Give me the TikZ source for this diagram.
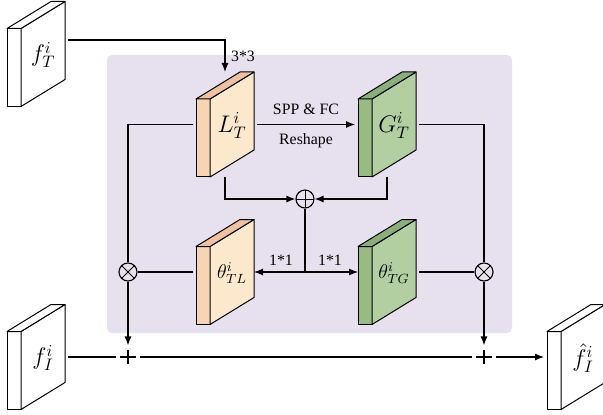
\documentclass[tikz,border=0pt]{standalone}
\usepackage{fontspec}
\setmainfont{Liberation Serif}
\usetikzlibrary{arrows.meta,calc}

\definecolor{panelbg}{HTML}{E7E0EF}
\definecolor{peachfront}{HTML}{FBE8CD}
\definecolor{peachside}{HTML}{F7D5B4}
\definecolor{peachtop}{HTML}{F0C0A2}
\definecolor{greenfront}{HTML}{B2CFA2}
\definecolor{greenside}{HTML}{98BB84}
\definecolor{greentop}{HTML}{8BAF7B}

% slab: name, centre, front, side, top, label
\newcommand{\slab}[6]{%
  \begin{scope}[shift={#2}]
    \filldraw[slabline,fill=#4] (-29,-25.5) rectangle (-15,52.5);
    \filldraw[slabline,fill=#3] (-15,-25.5) -- (29,-52.5) -- (29,25.5) -- (-15,52.5) -- cycle;
    \filldraw[slabline,fill=#5] (-29,-25.5) -- (-15,-25.5) -- (29,-52.5) -- (15,-52.5) -- cycle;
    \node at (7,1) {#6};
  \end{scope}
  \node[slabbox] (#1) at #2 {};
}

\begin{document}
\begin{tikzpicture}[x=0.6pt,y=-0.6pt,
    >={Latex[length=5.4pt,width=4.2pt]},
    line width=0.7pt,
    slabline/.style={line width=0.6pt,line join=round},
    slabbox/.style={minimum width=34.8pt,minimum height=63pt,inner sep=0pt,outer xsep=1.8pt,outer ysep=0pt},
    txt/.style={font=\fontsize{9.5}{11}\selectfont},
    sumnode/.style={circle,draw,fill=panelbg,minimum size=10.8pt,inner sep=0pt,
      path picture={\draw[line width=0.6pt] (path picture bounding box.north) -- (path picture bounding box.south)
        (path picture bounding box.west) -- (path picture bounding box.east);}},
    multnode/.style={circle,draw,fill=panelbg,minimum size=10.8pt,inner sep=0pt,
      path picture={\draw[line width=0.6pt] (path picture bounding box.north west) -- (path picture bounding box.south east)
        (path picture bounding box.north east) -- (path picture bounding box.south west);}},
    plusnode/.style={circle,fill=white,minimum size=13.2pt,inner sep=0pt,
      path picture={\draw[line width=0.7pt]
        ([xshift=-4.8pt]path picture bounding box.center) -- ([xshift=4.8pt]path picture bounding box.center)
        ([yshift=-4.2pt]path picture bounding box.center) -- ([yshift=4.2pt]path picture bounding box.center);}}]
    \useasboundingbox (0,0) rectangle (603,415);
    \fill[panelbg,rounded corners=3pt] (107,55) rectangle (512,333);

    \slab{fT}{(36,54)}{white}{white}{white}{\Large$f_T^i$}
    \slab{fI}{(36,357)}{white}{white}{white}{\Large$f_I^i$}
    \slab{hatf}{(576,357)}{white}{white}{white}{\Large$\hat{f}_I^i$}
    \slab{L}{(225,124.5)}{peachfront}{peachside}{peachtop}{\Large$L_T^i$}
    \slab{G}{(387,124.5)}{greenfront}{greenside}{greentop}{\Large$G_T^i$}
    \slab{tL}{(225,272)}{peachfront}{peachside}{peachtop}{\large$\theta_{TL}^i$}
    \slab{tG}{(387,272)}{greenfront}{greenside}{greentop}{\large$\theta_{TG}^i$}

    \node[sumnode] (s) at (305,199) {};
    \node[multnode] (m1) at (128,272) {};
    \node[multnode] (m2) at (484,272) {};
    \node[plusnode] (p1) at (128,357) {};
    \node[plusnode] (p2) at (484,357) {};
    \coordinate (br) at (305,272);
    \coordinate (fTout) at ($(fT.east)+(0,-14)$);

    \draw[->] (fTout) -| (L.north) node[pos=0.75,right,txt]{3*3};
    \draw[->] (L) -- (G) node[midway,above=2pt,txt]{SPP \& FC} node[midway,below=2pt,txt]{Reshape};
    \draw (L) -| (m1);
    \draw[->] (m1) -- (p1);
    \draw (tL) -- (m1);
    \draw (G) -| (m2);
    \draw[->] (m2) -- (p2);
    \draw (tG) -- (m2);
    \draw[->] (L) |- (s);
    \draw[->] (G) |- (s);
    \draw (s) -- (br);
    \draw[->,shorten >=-1.8pt] (br) -- (tL) node[midway,above,txt]{1*1};
    \draw[->,shorten >=-1.8pt] (br) -- (tG) node[midway,above,txt]{1*1};
    \draw (fI) -- (p1) -- (p2);
    \draw[->] (p2) -- (hatf);
\end{tikzpicture}
\end{document}
